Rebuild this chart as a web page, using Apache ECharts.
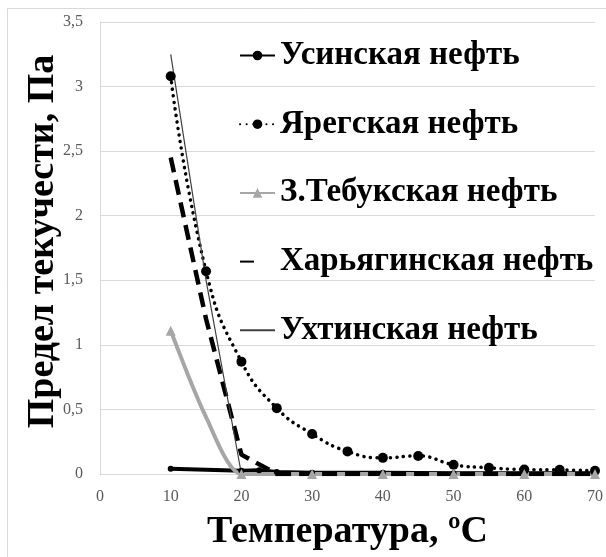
<!DOCTYPE html>
<html>
<head>
<meta charset="utf-8">
<script src="https://cdn.jsdelivr.net/npm/echarts@6/dist/echarts.min.js"></script>
<style>html,body{margin:0;padding:0;background:#fff;}#c{width:606px;height:557px;}</style>
</head>
<body>
<div id="c"></div>
<script>
// ---- data ----
var seriesNames = ['Усинская нефть', 'Ярегская нефть', 'З.Тебукская нефть', 'Харьягинская нефть', 'Ухтинская нефть'];
var usinskX = [10, 20, 22.5, 25, 30, 40, 50, 60, 70];
var usinskY = [0.04, 0.025, 0.03, 0.015, 0.01, 0.01, 0.005, 0.005, 0.005];
var yaregX = [10, 15, 20, 25, 30, 35, 40, 45, 50, 55, 60, 65, 70];
var yaregY = [3.08, 1.57, 0.87, 0.51, 0.31, 0.175, 0.125, 0.14, 0.072, 0.048, 0.035, 0.032, 0.025];
var tebukX = [10, 15, 20, 30, 40, 50, 60, 70];
var tebukY = [1.11, 0.44, 0, 0, 0, 0, 0, 0];
var tebukMarked = [true, false, true, true, true, true, true, true];
var kharX = [10, 15, 20, 25, 30, 40, 50, 60, 70];
var kharY = [2.45, 1.2, 0.15, 0, 0, 0, 0, 0, 0];
var ukhtaX = [10, 15, 20];
var ukhtaY = [3.25, 1.5, 0];
var xTicks = [0, 10, 20, 30, 40, 50, 60, 70];
var yTicks = [0, 0.5, 1, 1.5, 2, 2.5, 3, 3.5];
var xTitle = 'Температура, ºC';
var yTitle = 'Предел текучести, Па';

function pairs(xs, ys) { return xs.map(function (x, i) { return [x, ys[i]]; }); }

var FONT = "'Liberation Serif', serif";
var chart = echarts.init(document.getElementById('c'), null, { renderer: 'canvas' });
chart.setOption({
  animation: false,
  backgroundColor: '#fff',
  grid: { left: 100, right: 9, top: 22, bottom: 83, containLabel: false },
  graphic: [
    { type: 'line', shape: { x1: 7.5, y1: 8.5, x2: 606, y2: 8.5 }, style: { stroke: '#d9d9d9', lineWidth: 1 }, silent: true },
    { type: 'line', shape: { x1: 7.5, y1: 8.5, x2: 7.5, y2: 557 }, style: { stroke: '#d9d9d9', lineWidth: 1 }, silent: true },
    { type: 'text', x: 43, y: 241.5, rotation: Math.PI / 2, silent: true,
      style: { text: yTitle, font: "bold 38px 'Liberation Serif', serif", fill: '#000', align: 'center', verticalAlign: 'middle' } }
  ],
  legend: {
    orient: 'vertical',
    left: 234,
    top: 34,
    itemWidth: 35,
    itemHeight: 12,
    itemGap: 35.7,
    data: [
      { name: seriesNames[0] },
      { name: seriesNames[1] },
      { name: seriesNames[2] },
      { name: seriesNames[3], itemStyle: { opacity: 0 }, lineStyle: { type: [14, 40] } },
      { name: seriesNames[4], itemStyle: { opacity: 0 } }
    ],
    textStyle: { fontFamily: FONT, fontSize: 33, fontWeight: 'bold', color: '#000', lineHeight: 33 }
  },
  xAxis: {
    type: 'value',
    min: xTicks[0], max: xTicks[xTicks.length - 1], interval: 10,
    name: xTitle, nameLocation: 'middle', nameGap: 39,
    nameTextStyle: { fontFamily: FONT, fontSize: 38, fontWeight: 'bold', color: '#000', lineHeight: 38 },
    axisLine: { lineStyle: { color: '#d9d9d9', width: 1 } },
    axisTick: { show: false },
    splitLine: { show: false },
    axisLabel: { fontFamily: FONT, fontSize: 16, color: '#595959', margin: 15 }
  },
  yAxis: {
    type: 'value',
    min: yTicks[0], max: yTicks[yTicks.length - 1], interval: 0.5,
    axisLine: { show: true, lineStyle: { color: '#d9d9d9', width: 1 } },
    axisTick: { show: false },
    splitLine: { lineStyle: { color: '#d9d9d9', width: 1 } },
    axisLabel: { fontFamily: FONT, fontSize: 16, color: '#595959', margin: 17,
      formatter: function (v) { return String(v).replace('.', ','); } }
  },
  series: [
    { name: seriesNames[0], type: 'line', smooth: false, data: pairs(usinskX, usinskY),
      symbol: 'circle', symbolSize: 6, itemStyle: { color: '#000' },
      lineStyle: { color: '#000', width: 4 } },
    { name: seriesNames[1], type: 'line', smooth: true, data: pairs(yaregX, yaregY),
      symbol: 'circle', symbolSize: 10, itemStyle: { color: '#000' },
      lineStyle: { color: '#000', width: 3.5, type: [0.1, 6.5], cap: 'round' } },
    { name: seriesNames[2], type: 'line', smooth: 0.25,
      data: pairs(tebukX, tebukY).map(function (p, i) { return tebukMarked[i] ? p : { value: p, symbol: 'none' }; }),
      symbol: 'triangle', symbolSize: 10, itemStyle: { color: '#a6a6a6' },
      lineStyle: { color: '#a6a6a6', width: 4 } },
    { name: seriesNames[3], type: 'line', smooth: false, data: pairs(kharX, kharY),
      symbol: 'none', itemStyle: { color: '#000' },
      lineStyle: { color: '#000', width: 4.5, type: [15, 8] } },
    { name: seriesNames[4], type: 'line', smooth: false, data: pairs(ukhtaX, ukhtaY),
      symbol: 'none', itemStyle: { color: '#404040' },
      lineStyle: { color: '#404040', width: 1.2 } }
  ]
});
</script>
</body>
</html>
